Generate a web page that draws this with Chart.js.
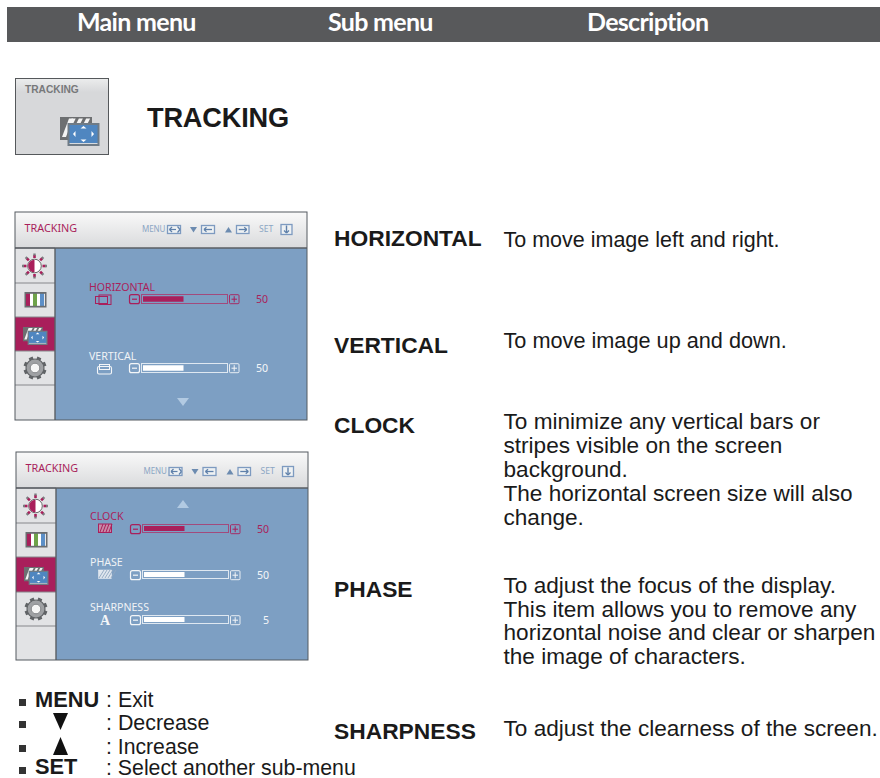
<!DOCTYPE html>
<html>
<head>
<meta charset="utf-8">
<title>TRACKING</title>
<script src="https://cdn.jsdelivr.net/npm/chart.js@4"></script>
<style>
  html, body { margin: 0; padding: 0; background: #fff; }
  #page { position: relative; width: 880px; height: 778px; overflow: hidden; }
  #art { position: absolute; left: 0; top: 0; }
  .slider { position: absolute; box-sizing: border-box; border: 1px solid; }
  .slider canvas { display: block; }
</style>
</head>
<body>
<div id="page">
  <svg id="art" width="880" height="778" xmlns="http://www.w3.org/2000/svg"></svg>
</div>
<script>
// slider data
const sliderNames = ["HORIZONTAL", "VERTICAL", "CLOCK", "PHASE", "SHARPNESS"];
const sliderValues = [50, 50, 50, 50, 5];
const sliderMax = [100, 100, 100, 100, 10];
const sliderActive = [true, false, true, false, false];

const headerLabels = ["Main menu", "Sub menu", "Description"];
const headerX = [77, 328, 587];

const subMenuNames = ["HORIZONTAL", "VERTICAL", "CLOCK", "PHASE", "SHARPNESS"];
const subMenuY = [246, 353, 433, 597, 739];

const descriptionLines = [
  ["To move image left and right."],
  ["To move image up and down."],
  ["To minimize any vertical bars or", "stripes visible on the screen", "background.", "The horizontal screen size will also", "change."],
  ["To adjust the focus of the display.", "This item allows you to remove any", "horizontal noise and clear or sharpen", "the image of characters."],
  ["To adjust the clearness of the screen."]
];
const descriptionY = [
  [247],
  [348],
  [429, 453, 477, 501, 525],
  [593, 617, 640, 664],
  [736]
];
const descriptionSize = [21.5, 21.7, 22.6, 22.6, 22.6];

// position of each slider on the page
const sliderBox = [
  { x: 141, y: 294, w: 87, h: 10, labelY: 291, iconY: 299.5, kind: "h" },
  { x: 141, y: 363, w: 87, h: 10, labelY: 360, iconY: 369, kind: "v" },
  { x: 142, y: 524, w: 87, h: 9, labelY: 520, iconY: 528, kind: "c" },
  { x: 142, y: 570, w: 87, h: 9, labelY: 566, iconY: 574, kind: "p" },
  { x: 142, y: 615, w: 87, h: 9, labelY: 611, iconY: 620, kind: "a" }
];

const CRIMSON = "#a91f5b";
const STEEL = "#7d9fc3";
const KEY_BLUE = "#7d9ac0";
const BODY_FONT = "'Liberation Sans', Arial, sans-serif";
const OSD_FONT = "'Noto Sans', sans-serif";

let svg = "";

function text(x, y, str, size, color, opts = {}) {
  const safe = str.replace(/&/g, "&amp;");
  svg += `<text x="${x}" y="${y}" font-family="${opts.font || BODY_FONT}" font-size="${size}" fill="${color}"` +
    ` font-weight="${opts.bold ? "bold" : "normal"}" letter-spacing="${opts.spacing || 0}"` +
    ` text-anchor="${opts.anchor || "start"}">${safe}</text>`;
}

function rect(x, y, w, h, fill, stroke, sw = 1) {
  svg += `<rect x="${x}" y="${y}" width="${w}" height="${h}" fill="${fill}" stroke="${stroke || "none"}" stroke-width="${sw}"/>`;
}

function poly(points, fill) {
  svg += `<polygon points="${points}" fill="${fill}"/>`;
}

function line(x1, y1, x2, y2, color, sw = 1) {
  svg += `<line x1="${x1}" y1="${y1}" x2="${x2}" y2="${y2}" stroke="${color}" stroke-width="${sw}"/>`;
}

function trackIcon(x, y, s) {
  // back screen with stripes
  rect(x, y, 32 * s, 23 * s, "#6d6f71");
  for (let i = 0; i < 4; i++) {
    const sx = x + (2 + i * 7.2) * s;
    const bottom = i === 0 ? 20 : 6.5;
    const lean = i === 0 ? 7 : 2.5;
    poly(`${sx + lean * s},${y + 1.5 * s} ${sx + (lean + 4) * s},${y + 1.5 * s} ${sx + 4 * s},${y + bottom * s} ${sx},${y + bottom * s}`, "#f4f4f4");
  }
  // front screen
  rect(x + 7.5 * s, y + 6 * s, 32 * s, 23 * s, "#6f7b86");
  rect(x + 9.5 * s, y + 8 * s, 28 * s, 18 * s, "#4f86c0");
  line(x + 9.5 * s, y + 26.5 * s, x + 37.5 * s, y + 26.5 * s, "#f2f4f6", 0.8 * s);
  const cx = x + 23.5 * s, cy = y + 17 * s, t = 3 * s;
  poly(`${cx - t},${cy - 5.5 * s} ${cx + t},${cy - 5.5 * s} ${cx},${cy - 8 * s}`, "#fff");
  poly(`${cx - t},${cy + 5.5 * s} ${cx + t},${cy + 5.5 * s} ${cx},${cy + 8 * s}`, "#fff");
  poly(`${cx - 8 * s},${cy - t} ${cx - 8 * s},${cy + t} ${cx - 10.5 * s},${cy}`, "#fff");
  poly(`${cx + 8 * s},${cy - t} ${cx + 8 * s},${cy + t} ${cx + 10.5 * s},${cy}`, "#fff");
}

function sunIcon(cx, cy) {
  for (let i = 0; i < 8; i++) {
    const a = i * Math.PI / 4;
    line(cx + Math.cos(a) * 8, cy + Math.sin(a) * 8, cx + Math.cos(a) * 11, cy + Math.sin(a) * 11, CRIMSON, 2.6);
    line(cx + Math.cos(a) * 10.5, cy + Math.sin(a) * 10.5, cx + Math.cos(a) * 12.5, cy + Math.sin(a) * 12.5, "#7b7d80", 2.4);
  }
  svg += `<circle cx="${cx}" cy="${cy}" r="6.8" fill="#fff" stroke="#666" stroke-width="1"/>`;
  svg += `<path d="M${cx},${cy - 6.3} A6.3,6.3 0 0 0 ${cx},${cy + 6.3} Z" fill="${CRIMSON}"/>`;
}

function barsIcon(x, y) {
  rect(x, y, 22, 15.5, "#6a6d70");
  const colors = ["#a91f5b", "#fff", "#6fa34a", "#fff", "#5c8fc7", "#e8e8e8"];
  const widths = [4, 3, 4, 3, 4, 1];
  let px = x + 1.5;
  colors.forEach((c, i) => { rect(px, y + 1.8, widths[i], 12, c); px += widths[i]; });
}

function gearIcon(cx, cy) {
  for (let i = 0; i < 8; i++) {
    const a = i * Math.PI / 4 + Math.PI / 8;
    line(cx + Math.cos(a) * 8, cy + Math.sin(a) * 8, cx + Math.cos(a) * 11.5, cy + Math.sin(a) * 11.5, "#606366", 4.2);
  }
  svg += `<circle cx="${cx}" cy="${cy}" r="9" fill="#9fa1a4" stroke="#606366" stroke-width="1.2"/>`;
  svg += `<circle cx="${cx}" cy="${cy}" r="4.8" fill="#f6f6f6" stroke="#85878a" stroke-width="1"/>`;
}

function keyBox(x, y, w, h, kind) {
  const c = KEY_BLUE;
  rect(x + 0.5, y + 0.5, w - 1, h - 1, "#eef1f3", c, 1.3);
  const mx = x + w / 2, my = y + h / 2;
  if (kind === "left" || kind === "right") {
    line(mx - 4, my, mx + 4, my, "#5f80aa", 1.3);
    const d = kind === "left" ? -1 : 1;
    line(mx + d * 4, my, mx + d * 1.5, my - 2.2, "#5f80aa", 1.3);
    line(mx + d * 4, my, mx + d * 1.5, my + 2.2, "#5f80aa", 1.3);
  } else if (kind === "both") {
    line(mx - 4.5, my, mx + 2, my, "#5f80aa", 1.2);
    line(mx - 4.5, my, mx - 2, my - 2.5, "#5f80aa", 1.2);
    line(mx - 4.5, my, mx - 2, my + 2.5, "#5f80aa", 1.2);
    line(mx + 3.5, my - 3, mx + 6, my, "#5f80aa", 1.2);
    line(mx + 3.5, my + 3, mx + 6, my, "#5f80aa", 1.2);
  } else {
    line(mx, my - 4, mx, my + 3.5, "#5f80aa", 1.4);
    line(mx, my + 3.5, mx - 2.5, my + 1, "#5f80aa", 1.3);
    line(mx, my + 3.5, mx + 2.5, my + 1, "#5f80aa", 1.3);
  }
}

function panel(px, py, w, h, rows, sideW, hx, hy) {
  // header strip
  svg += `<rect x="${px}" y="${py}" width="${w}" height="36" fill="url(#headGrad)"/>`;
  // blue body
  rect(px + sideW, py + 36, w - sideW, h - 36, STEEL);
  // sidebar cells
  rows.forEach((ry, i) => {
    const next = rows[i + 1] || py + h;
    rect(px, ry, sideW, next - ry, i === 2 ? CRIMSON : "#e2e3e5");
    line(px, ry, px + sideW, ry, "#85888b", 1.2);
  });
  line(px + sideW, py + 36, px + sideW, py + h, "#5a5e63", 1.4);
  line(px, py + 36, px + w, py + 36, "#5a5e63", 1.4);
  svg += `<rect x="${px}" y="${py}" width="${w}" height="${h}" fill="none" stroke="#555a60" stroke-width="1"/>`;

  text(px + 9.5, py + 20, "TRACKING", 10.8, CRIMSON, { font: OSD_FONT });
  text(142 + hx, py + 19.5 + hy, "MENU", 8, "#8ba6c4", { font: OSD_FONT, spacing: -0.1 });
  keyBox(167 + hx, py + 13 + hy, 14, 9, "both");
  poly(`${190 + hx},${py + 15 + hy} ${197 + hx},${py + 15 + hy} ${193.5 + hx},${py + 20.5 + hy}`, "#6c8bb0");
  keyBox(201 + hx, py + 13 + hy, 14, 9, "left");
  poly(`${225 + hx},${py + 20.5 + hy} ${232 + hx},${py + 20.5 + hy} ${228.5 + hx},${py + 15 + hy}`, "#6c8bb0");
  keyBox(236 + hx, py + 13 + hy, 13.5, 9, "right");
  text(259 + hx, py + 19.5 + hy, "SET", 8.6, "#8ba6c4", { font: OSD_FONT });
  keyBox(280.5 + hx, py + 12 + hy, 12, 11, "down");

  sunIcon(px + 19.5, rows[0] + 18);
  barsIcon(px + 9.5, rows[1] + 9);
  trackIcon(px + 8, rows[2] + 10, 0.62);
  gearIcon(px + 20, rows[3] + 17);
}

function sliderParts(i) {
  const b = sliderBox[i];
  const color = sliderActive[i] ? CRIMSON : "#f4f6f8";
  text(b.x - 52, b.labelY, sliderNames[i], 10.6, sliderActive[i] ? CRIMSON : "#f0f3f6", { font: OSD_FONT });
  // minus / plus keys
  const ky = b.y;
  svg += `<rect x="${b.x - 11.5}" y="${ky + 0.7}" width="10" height="9" rx="2" fill="none" stroke="${color}" stroke-width="1.2"/>`;
  line(b.x - 9, ky + 5.2, b.x - 4, ky + 5.2, color, 1.2);
  svg += `<rect x="${b.x + b.w + 1.5}" y="${ky + 0.7}" width="9.5" height="9" rx="1" fill="none" stroke="${color}" stroke-width="0.9"/>`;
  line(b.x + b.w + 3.5, ky + 5.2, b.x + b.w + 9, ky + 5.2, color, 1);
  line(b.x + b.w + 6.2, ky + 2.2, b.x + b.w + 6.2, ky + 8.2, color, 1);
  // value
  text(b.x + b.w + 40, ky + 8.5, String(sliderValues[i]), 10.6, color, { font: OSD_FONT, anchor: "end" });
  // small item icon
  const ix = b.x - 37, iy = b.iconY;
  if (b.kind === "h") {
    rect(ix - 8.5, iy - 3, 12, 7, "none", color, 1);
    rect(ix - 5, iy - 4.5, 12, 9.5, "none", color, 1);
  } else if (b.kind === "v") {
    svg += `<rect x="${ix - 6.5}" y="${iy - 2.5}" width="14" height="7.5" rx="1.5" fill="none" stroke="${color}" stroke-width="1.1"/>`;
    rect(ix - 4.5, iy - 4.5, 10, 5, "none", color, 1);
  } else if (b.kind === "c") {
    rect(ix - 6.5, iy - 4, 13, 8.5, "#c88aa8", color, 1);
    for (let k = 0; k < 4; k++) line(ix - 5 + k * 3, iy + 4, ix - 2 + k * 3, iy - 4, CRIMSON, 1);
  } else if (b.kind === "p") {
    rect(ix - 6.5, iy - 4, 13, 8.5, "#dfe6ee", "#eef2f6", 0.5);
    for (let k = 0; k < 5; k++) line(ix - 6 + k * 3, iy + 4, ix - 1 + k * 3, iy - 4, "#8fa6bf", 0.9);
  } else {
    svg += `<text x="${ix}" y="${iy + 5}" font-family="'Liberation Serif', serif" font-weight="bold" font-size="14" fill="#f4f6f8" text-anchor="middle">A</text>`;
  }
}

// gradients used by the header strips and the menu button
svg += `<defs>
  <linearGradient id="headGrad" x1="0" y1="0" x2="0" y2="1"><stop offset="0" stop-color="#f9f9f9"/><stop offset="1" stop-color="#d9dadc"/></linearGradient>
  <linearGradient id="btnGrad" x1="0" y1="0" x2="0" y2="1"><stop offset="0" stop-color="#eceded"/><stop offset="0.18" stop-color="#d7d8da"/><stop offset="1" stop-color="#d7d8da"/></linearGradient>
</defs>`;

// dark title bar
rect(7, 7, 873, 35, "#58595b");
headerLabels.forEach((label, i) => {
  text(headerX[i], 31, label, 25, "#fff", { font: "Lato, sans-serif", bold: true, spacing: -0.7 });
});

// TRACKING button and big title
svg += `<rect x="15.5" y="78.5" width="93" height="76" fill="url(#btnGrad)" stroke="#55585b" stroke-width="1"/>`;
text(25, 93, "TRACKING", 10.2, "#77787a", { bold: true });
trackIcon(60, 117, 1);
text(147, 127, "TRACKING", 27.2, "#1a1a1a", { bold: true, spacing: -0.2 });

// the two OSD screens
panel(15, 212, 292, 208, [248, 283, 317, 351, 385], 40, 0, 0);
panel(16, 452, 292, 208, [488, 523, 557, 592, 626], 40, 1.5, 2);
poly("177,398 189,398 183,406", "#b2cae2");
poly("177,508 189,508 183,500", "#b2cae2");
sliderNames.forEach((name, i) => sliderParts(i));

// sub menu names and their descriptions
subMenuNames.forEach((name, i) => {
  text(334, subMenuY[i], name, 22.8, "#1a1a1a", { bold: true });
  descriptionLines[i].forEach((str, k) => {
    text(503.5, descriptionY[i][k], str, descriptionSize[i], "#1a1a1a");
  });
});

// key legend bottom left
[699, 721, 745, 767].forEach(y => rect(19, y, 7, 7, "#333"));
text(35, 707, "MENU", 21.8, "#1a1a1a", { bold: true });
text(106, 707, ": Exit", 21.4, "#1a1a1a");
poly("53,713 68,713 60.5,730", "#111");
text(106, 730, ": Decrease", 21.4, "#1a1a1a");
poly("53,755 68,755 60.5,737", "#111");
text(106, 753.5, ": Increase", 21.2, "#1a1a1a");
text(35, 774, "SET", 21.8, "#1a1a1a", { bold: true });
text(106, 775, ": Select another sub-menu", 21.3, "#1a1a1a");

document.getElementById("art").innerHTML = svg;

// each slider is a small horizontal bar chart
sliderNames.forEach((name, i) => {
  const b = sliderBox[i];
  const color = sliderActive[i] ? CRIMSON : "#ffffff";
  const wrap = document.createElement("div");
  wrap.className = "slider";
  wrap.style.cssText = `left:${b.x}px;top:${b.y}px;width:${b.w}px;height:${b.h}px;border-color:${sliderActive[i] ? "#a24a7c" : "#dfe8f1"};`;
  const canvas = document.createElement("canvas");
  canvas.width = b.w - 2;
  canvas.height = b.h - 2;
  wrap.appendChild(canvas);
  document.getElementById("page").appendChild(wrap);
  new Chart(canvas.getContext("2d"), {
    type: "bar",
    data: {
      labels: [name],
      datasets: [{ data: [sliderValues[i]], backgroundColor: color, barPercentage: 0.68, categoryPercentage: 1 }]
    },
    options: {
      indexAxis: "y",
      responsive: false,
      animation: false,
      layout: { padding: { left: 1, right: 3 } },
      plugins: { legend: { display: false }, tooltip: { enabled: false } },
      scales: {
        x: { display: false, min: 0, max: sliderMax[i] },
        y: { display: false }
      }
    }
  });
});
</script>
</body>
</html>
